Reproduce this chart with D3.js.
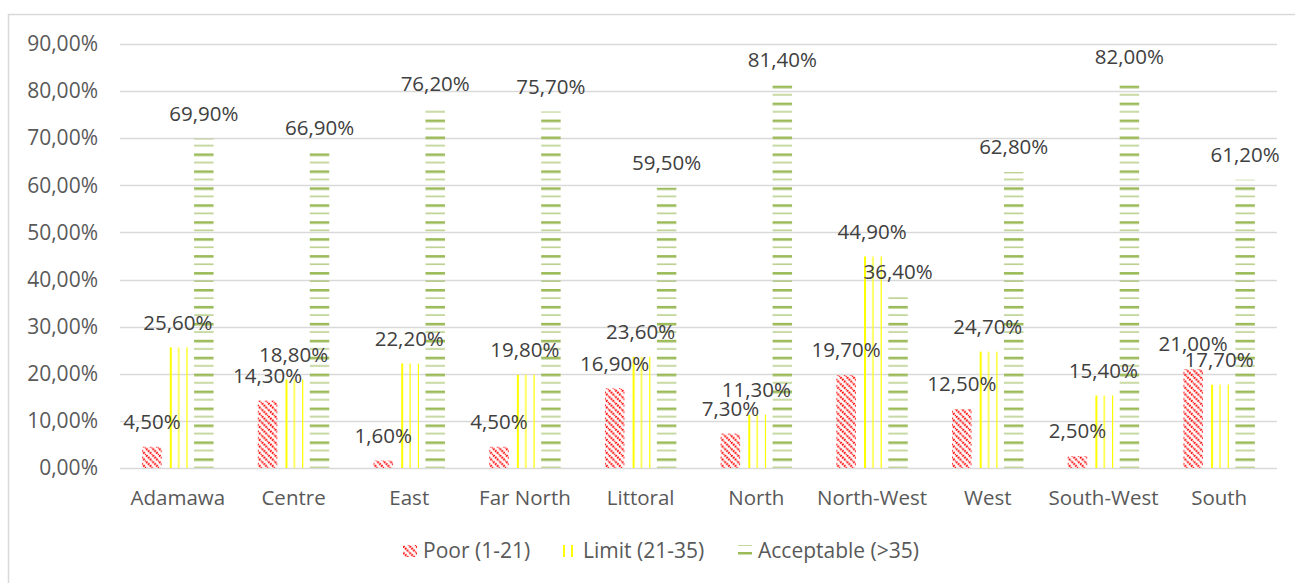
<!DOCTYPE html>
<html>
<head>
<meta charset="utf-8">
<script src="https://cdn.jsdelivr.net/npm/d3@7"></script>
<style>
  html, body { margin: 0; padding: 0; background: #fff; }
  svg { display: block; }
  text { font-family: "Open Sans", "Noto Sans", sans-serif; }
</style>
</head>
<body>
<svg id="chart" width="1295" height="583"></svg>
<script>
const categories = ["Adamawa", "Centre", "East", "Far North", "Littoral", "North", "North-West", "West", "South-West", "South"];
const seriesNames = ["Poor (1-21)", "Limit (21-35)", "Acceptable (>35)"];
const poor = [4.5, 14.3, 1.6, 4.5, 16.9, 7.3, 19.7, 12.5, 2.5, 21.0];
const limit = [25.6, 18.8, 22.2, 19.8, 23.6, 11.3, 44.9, 24.7, 15.4, 17.7];
const acceptable = [69.9, 66.9, 76.2, 75.7, 59.5, 81.4, 36.4, 62.8, 82.0, 61.2];
const yTicks = [0, 10, 20, 30, 40, 50, 60, 70, 80, 90];

const seriesValues = [poor, limit, acceptable];
const fmt = v => v.toFixed(2).replace(".", ",") + "%";

const svg = d3.select("#chart");
const W = 1295, H = 583;
const plot = { left: 120, right: 1277, top: 44, bottom: 468 };

// chart border (extends beyond the viewport on right and bottom)
svg.append("rect")
  .attr("x", 8.5).attr("y", 14.5)
  .attr("width", W + 20).attr("height", H + 20)
  .attr("fill", "none").attr("stroke", "#d9d9d9").attr("stroke-width", 1.5);

// patterns
const defs = svg.append("defs");
const pPoor = defs.append("pattern").attr("id", "pat0")
  .attr("patternUnits", "userSpaceOnUse").attr("width", 6.5).attr("height", 6.5);
pPoor.append("path")
  .attr("d", "M-1.625,-1.625 L8.125,8.125 M-1.625,4.875 L1.625,8.125 M4.875,-1.625 L8.125,1.625")
  .attr("stroke", "#ff0000").attr("stroke-width", 2.2).attr("stroke-dasharray", "1.6,1");

const pLimit = defs.append("pattern").attr("id", "pat1")
  .attr("patternUnits", "userSpaceOnUse").attr("width", 16.6).attr("height", 8);
pLimit.append("rect").attr("x", 0).attr("y", 0).attr("width", 2).attr("height", 8).attr("fill", "#ffff00");
pLimit.append("rect").attr("x", 8.3).attr("y", 0).attr("width", 1.2).attr("height", 8).attr("fill", "#ffff00");

const pAcc = defs.append("pattern").attr("id", "pat2")
  .attr("patternUnits", "userSpaceOnUse").attr("width", 16).attr("height", 16.94).attr("y", 1);
pAcc.append("rect").attr("x", 0).attr("y", 0).attr("width", 16).attr("height", 2.6).attr("fill", "#9bbb59");
pAcc.append("rect").attr("x", 0).attr("y", 8.47).attr("width", 16).attr("height", 1.3).attr("fill", "#9bbb59").attr("opacity", 0.85);

const x0 = d3.scaleBand().domain(categories).range([plot.left, plot.right]).paddingInner(0).paddingOuter(0);
const x1 = d3.scaleBand().domain(d3.range(3)).range([0, x0.bandwidth()]).paddingInner(0.25).paddingOuter(0.852);
const y = d3.scaleLinear().domain([0, 90]).range([plot.bottom, plot.top]);

// gridlines
svg.append("g").selectAll("line").data(yTicks).join("line")
  .attr("x1", plot.left).attr("x2", plot.right)
  .attr("y1", d => Math.round(y(d)) + 0.5).attr("y2", d => Math.round(y(d)) + 0.5)
  .attr("stroke", "#d9d9d9").attr("stroke-width", d => d === 0 ? 1.6 : 1.4);

// y axis labels
const yAxis = d3.axisLeft(y).tickValues(yTicks).tickFormat(fmt).tickSize(0).tickPadding(0);
const gy = svg.append("g").attr("transform", `translate(98,0)`).call(yAxis);
gy.select(".domain").remove();
gy.selectAll("text").attr("font-size", 21).attr("fill", "#595959")
  .attr("font-family", "'Open Sans', sans-serif");

// x axis labels
const xAxis = d3.axisBottom(x0).tickSize(0).tickPadding(0);
const gx = svg.append("g").attr("transform", `translate(0,490)`).call(xAxis);
gx.select(".domain").remove();
gx.selectAll("text").attr("font-size", 20.5).attr("fill", "#595959")
  .attr("font-family", "'Open Sans', sans-serif");

// bars
const groups = svg.append("g").selectAll("g").data(categories).join("g")
  .attr("transform", c => `translate(${x0(c)},0)`);
const barData = (c, i) => seriesValues.map((vals, s) => ({ s, v: vals[i] }));
groups.selectAll("rect").data(barData).join("rect")
  .attr("x", d => x1(d.s)).attr("width", x1.bandwidth())
  .attr("y", d => y(d.v)).attr("height", d => y(0) - y(d.v))
  .attr("fill", d => `url(#pat${d.s})`);

// data labels
groups.selectAll("text.lbl").data(barData).join("text").attr("class", "lbl")
  .attr("x", d => x1(d.s) + x1.bandwidth() / 2)
  .attr("y", d => y(d.v) - 25).attr("dy", "0.35em")
  .attr("text-anchor", "middle").attr("font-size", 20.5).attr("fill", "#404040")
  .text(d => fmt(d.v));

// legend
const legend = svg.append("g");
const legendY = 551;
const startX = [403, 563, 738];
seriesNames.forEach((name, s) => {
  const g = legend.append("g").attr("transform", `translate(${startX[s]},0)`);
  if (s === 0) {
    g.append("rect").attr("x", 0).attr("y", legendY - 6).attr("width", 14).attr("height", 12).attr("fill", "url(#pat0)");
  } else if (s === 1) {
    g.append("rect").attr("x", 0).attr("y", legendY - 6).attr("width", 2).attr("height", 12).attr("fill", "#ffff00");
    g.append("rect").attr("x", 8).attr("y", legendY - 6).attr("width", 2).attr("height", 12).attr("fill", "#ffff00");
  } else {
    g.append("rect").attr("x", 0).attr("y", legendY - 6).attr("width", 14).attr("height", 1).attr("fill", "#c5d9a0");
    g.append("rect").attr("x", 0).attr("y", legendY + 1).attr("width", 14).attr("height", 2.5).attr("fill", "#9bbb59");
  }
  g.append("text").attr("x", 20).attr("y", legendY).attr("dy", "0.35em")
    .attr("font-size", 21).attr("fill", "#595959").text(name);
});
</script>
</body>
</html>
